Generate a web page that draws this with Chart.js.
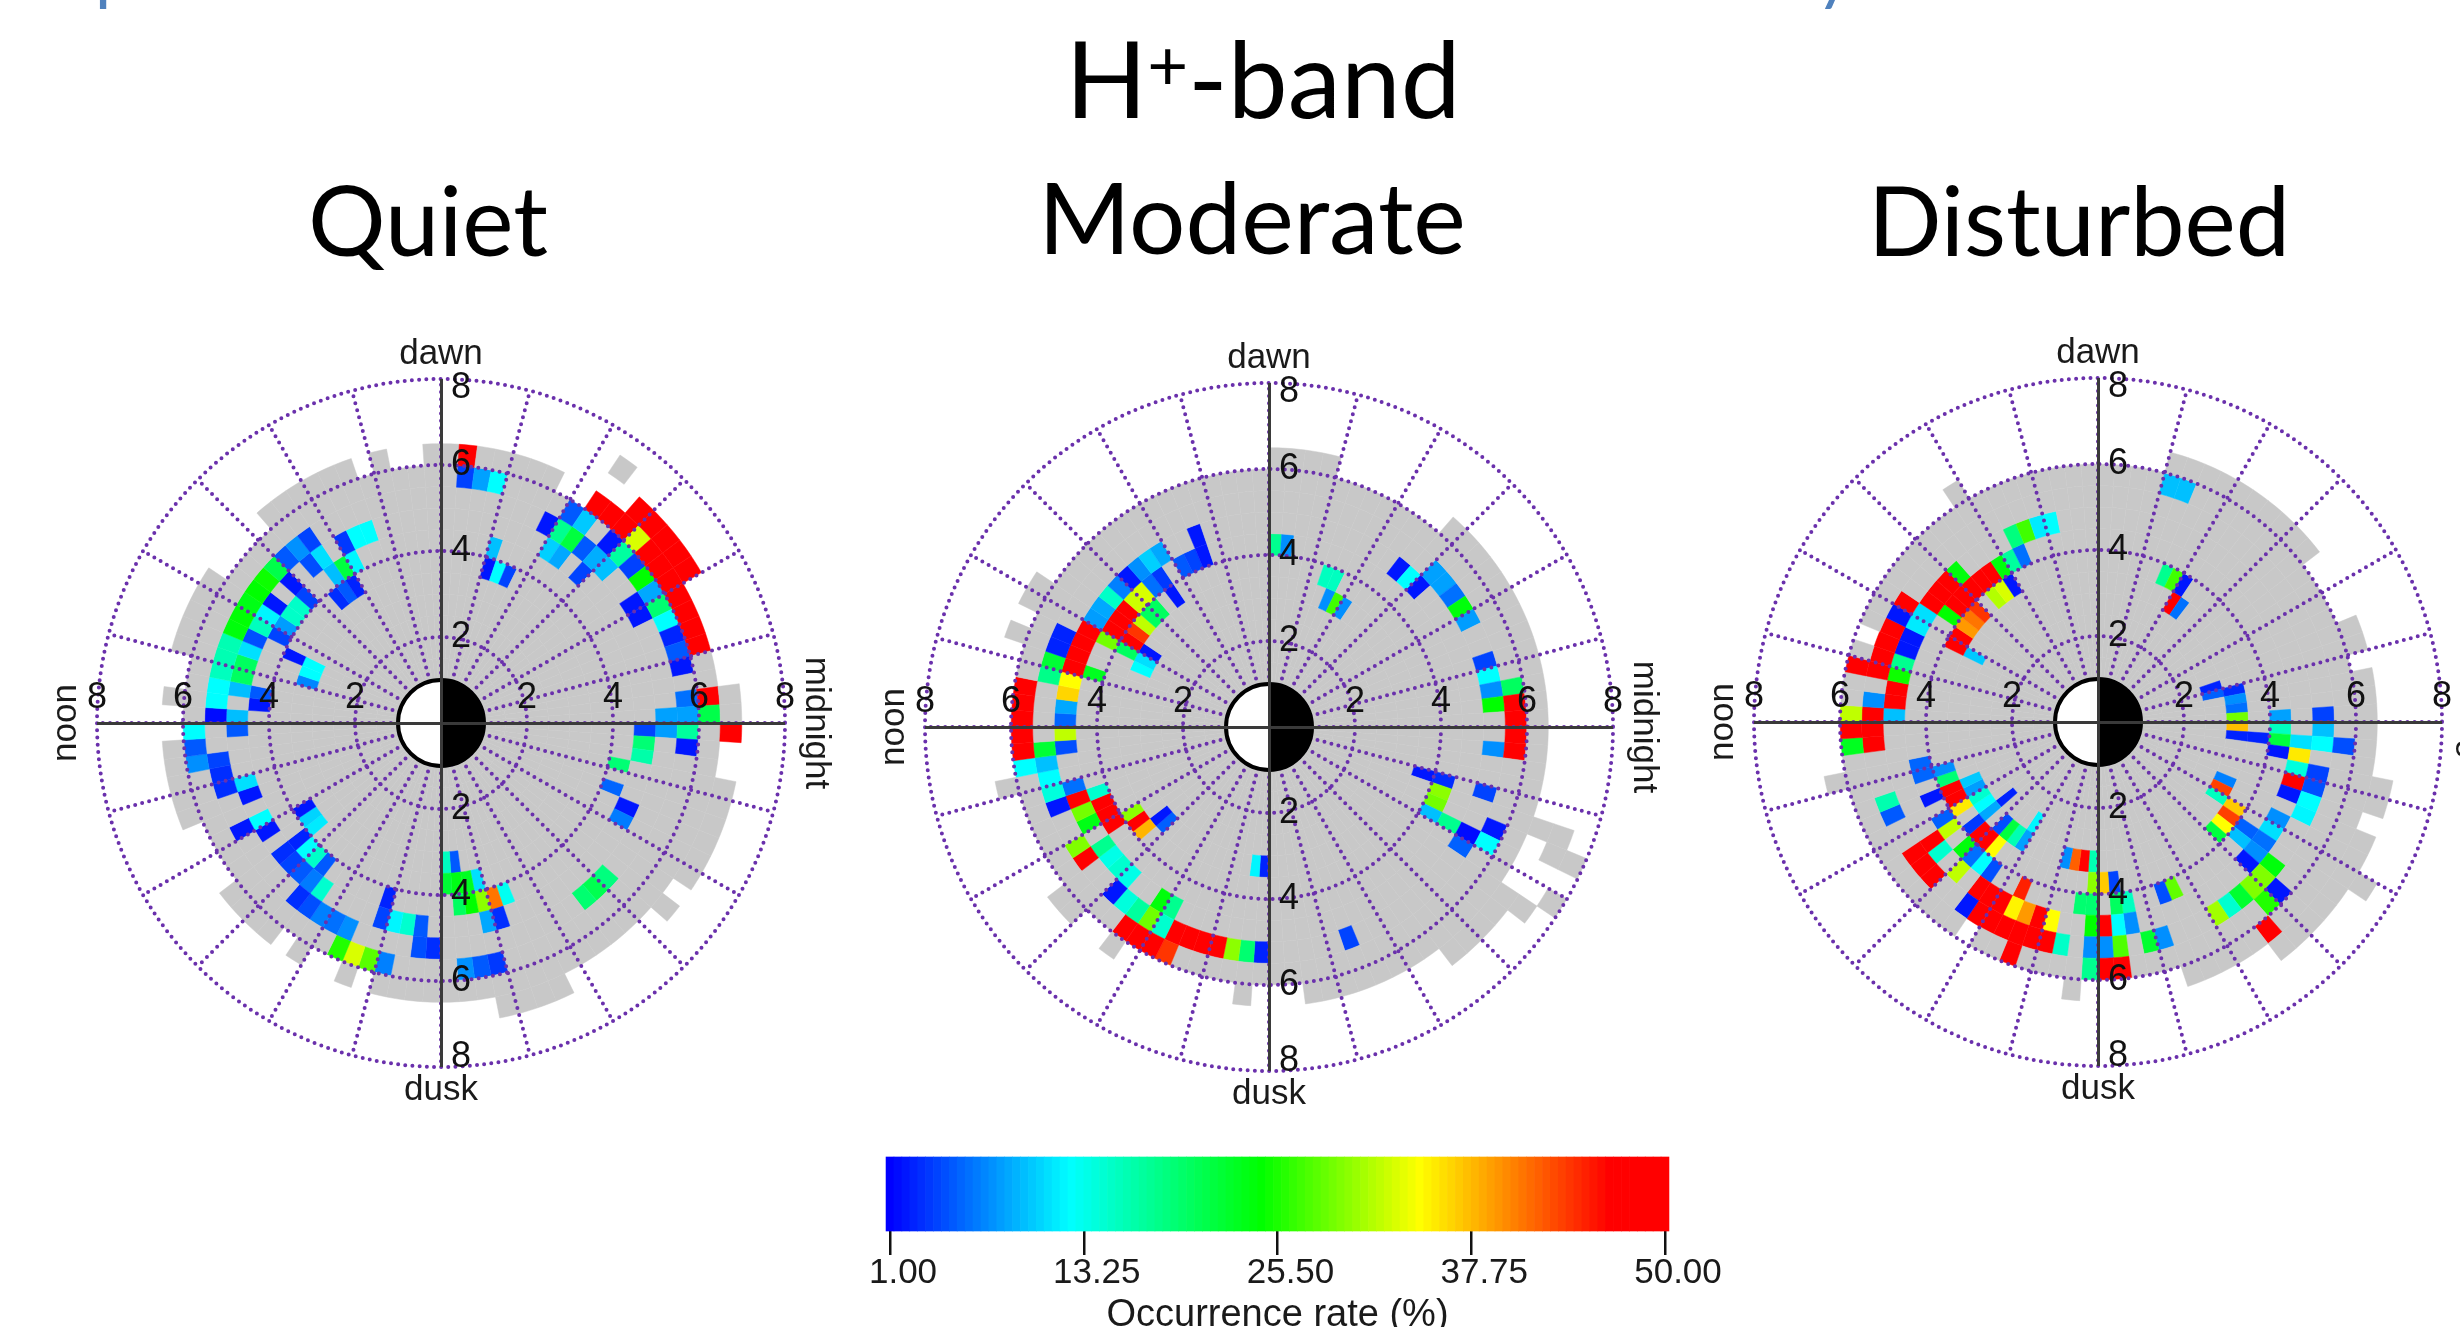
<!DOCTYPE html>
<html>
<head>
<meta charset="utf-8">
<title>H+-band occurrence rate</title>
<script src="https://cdn.jsdelivr.net/npm/chart.js@4"></script>
<style>
  html, body { margin: 0; padding: 0; background: #fff; }
  body { position: relative; width: 2460px; height: 1327px; overflow: hidden; }
  canvas { position: absolute; }
  .head { position: absolute; font-family: Lato, sans-serif; color: #000; line-height: 1; white-space: nowrap; transform: translateX(-50%); }
  .head sup { font-size: 0.66em; line-height: 0; vertical-align: 0.4em; }
  .cut { position: absolute; font-family: Lato, sans-serif; font-size: 70px; line-height: 1; color: #4f81bd; }
</style>
</head>
<body>
<div class="cut" style="left:95px;top:-65px">p</div>
<div class="cut" style="left:1816px;top:-65px">y</div>
<div class="head" style="left:1263px;top:23px;font-size:107px">H<sup>+</sup>-band</div>
<div class="head" style="left:428px;top:170px;font-size:97px">Quiet</div>
<div class="head" style="left:1252px;top:166px;font-size:99.5px">Moderate</div>
<div class="head" style="left:2079px;top:170px;font-size:97px">Disturbed</div>
<canvas id="quiet" width="820" height="820" style="left:31px;top:313px"></canvas>
<canvas id="moderate" width="820" height="820" style="left:859px;top:317px"></canvas>
<canvas id="disturbed" width="820" height="820" style="left:1688px;top:312px"></canvas>
<canvas id="colorbar" width="1000" height="230" style="left:780px;top:1130px"></canvas>
<script>
// colour scale of the occurrence rate (%)
const rateStops = [1, 12.4, 24.5, 34.5, 46.5, 50];
const stopColors = [[0, 0, 255], [0, 255, 255], [0, 255, 0], [255, 255, 0], [255, 0, 0], [255, 0, 0]];
const colorTicks = [1, 13.25, 25.5, 37.75, 50];
const rateLevels = [1, 1.5, 2, 2.5, 3, 3.5, 4, 4.5, 5, 5.5, 6, 6.5, 7, 7.5, 8, 8.5, 9, 9.5, 10, 10.5,
  11, 11.5, 12, 12.5, 13, 13.5, 14, 14.5, 15, 15.5, 16, 16.5, 17, 17.5, 18, 18.5, 19, 19.5, 20, 20.5,
  21, 21.5, 22, 22.5, 23, 23.5, 24, 24.5, 25, 25.5, 26, 26.5, 27, 27.5, 28, 28.5, 29, 29.5, 30, 30.5,
  31, 31.5, 32, 32.5, 33, 33.5, 34, 34.5, 35, 35.5, 36, 36.5, 37, 37.5, 38, 38.5, 39, 39.5, 40, 40.5,
  41, 41.5, 42, 42.5, 43, 43.5, 44, 44.5, 45, 45.5, 46, 46.5, 47, 47.5, 48, 48.5, 49, 49.5, 50];

// dial grid: L rings start every 0.5 from 1 to 7.5, MLT sectors are quarter hours
const ringStarts = [7.5, 7, 6.5, 6, 5.5, 5, 4.5, 4, 3.5, 3, 2.5, 2, 1.5, 1];
const sectorCount = 96;
const xTickValues = [-8, -6, -4, -2, 0, 2, 4, 6, 8];
const yTickValues = [-7.78, -6, -4, -2, 0, 2, 4, 6, 7.78];
const dottedRings = [2, 4, 6, 8];
const spokeAngles = [0, 15, 30, 45, 60, 75, 90, 105, 120, 135, 150, 165, 180, 195, 210, 225, 240, 255, 270, 285, 300, 315, 330, 345];

// measured coverage, [first sector of the run, outer L]
const quietCover = [[0, 7], [2, 6.5], [8, 7], [13, 6.5], [15, 6], [17, 6.5], [25, 6], [27, 6.5], [28, 6], [29, 6.5], [35, 6], [39, 6.5], [44, 6], [46, 6.5], [47, 6], [49, 6.5], [54, 6], [58, 6.5], [62, 6], [63, 6.5], [64, 6], [66, 6.5], [67, 6], [68, 6.5], [75, 7], [79, 6.5], [85, 7], [86, 6.5], [87, 7], [93, 6.5], [95, 7]];
const moderateCover = [[0, 6.5], [13, 6], [20, 6.5], [24, 6], [39, 6.5], [41, 6], [42, 6.5], [43, 6], [51, 6.5], [52, 6], [58, 6.5], [60, 6], [62, 6.5], [63, 6], [70, 6.5], [71, 6], [74, 6.5], [82, 7], [86, 7.5], [87, 6.5], [90, 7.5], [91, 6.5]];
const disturbedCover = [[0, 6.5], [3, 6], [4, 6.5], [6, 6], [10, 6.5], [20, 6], [32, 6.5], [33, 6], [42, 5.5], [43, 6], [51, 6.5], [52, 6], [63, 5.5], [64, 6], [70, 6.5], [71, 6], [77, 6.5], [82, 7], [87, 7.5], [88, 7], [90, 6.5], [91, 7], [93, 6.5]];

// covered cells that stand apart from the main area, [L, sector]
const quietIslands = [[7, 14]];
const moderateIslands = [[7, 89], [7.5, 89], [7.5, 87]];
const disturbedIslands = [];

// occurrence rate cells, [L, sector, rate]
const quietCells = [
  [6.5, 95, 48], [6.5, 8, 48], [6.5, 9, 48], [6.5, 10, 48], [6.5, 11, 48], [6.5, 12, 48],
  [6, 0, 21], [6, 1, 48], [6, 4, 48], [6, 5, 48], [6, 6, 48], [6, 7, 48], [6, 8, 48], [6, 9, 48], [6, 10, 48], [6, 11, 33], [6, 12, 48], [6, 13, 48], [6, 14, 48], [6, 22, 48],
  [5.5, 0, 8.2], [5.5, 1, 6], [5.5, 3, 2], [5.5, 4, 5], [5.5, 5, 2.6], [5.5, 6, 12.4], [5.5, 7, 19.2], [5.5, 8, 8.5], [5.5, 9, 24.5], [5.5, 10, 3.9], [5.5, 11, 16.9], [5.5, 12, 2], [5.5, 14, 10], [5.5, 15, 5],
  [5.5, 20, 12.4], [5.5, 21, 8.2], [5.5, 22, 3.9], [5.5, 48, 12.4], [5.5, 49, 5], [5.5, 50, 7.4], [5.5, 65, 25.8], [5.5, 66, 33], [5.5, 67, 28], [5.5, 68, 6.7], [5.5, 73, 7.5], [5.5, 74, 5], [5.5, 75, 3.5], [5.5, 94, 2], [5.5, 95, 17],
  [5, 0, 8.2], [5, 7, 2], [5, 8, 2], [5, 11, 9.6], [5, 12, 8.8], [5, 13, 5], [5, 14, 21.5], [5, 15, 17.7], [5, 16, 2], [5, 33, 4], [5, 34, 7.5], [5, 35, 5], [5, 36, 21], [5, 37, 25], [5, 38, 24.5], [5, 39, 23.5], [5, 40, 24.3], [5, 41, 24], [5, 42, 16], [5, 43, 16], [5, 44, 15.5], [5, 45, 12.4], [5, 46, 12.4], [5, 47, 1.5],
  [5, 50, 4], [5, 51, 3], [5, 52, 3], [5, 55, 2], [5, 61, 3], [5, 62, 4.5], [5, 63, 6.7], [5, 64, 6], [5, 65, 7.4], [5, 70, 4.5], [5, 71, 3], [5, 82, 19.2], [5, 83, 20.7], [5, 84, 18.5], [5, 95, 8],
  [4.5, 12, 4], [4.5, 14, 8.5], [4.5, 15, 10.3], [4.5, 29, 12.4], [4.5, 30, 12.4], [4.5, 31, 3.5], [4.5, 33, 11], [4.5, 34, 4.5], [4.5, 36, 2], [4.5, 38, 2], [4.5, 39, 12], [4.5, 40, 15.5], [4.5, 41, 4.5], [4.5, 42, 11], [4.5, 43, 20], [4.5, 44, 20], [4.5, 45, 9.5], [4.5, 47, 9.5], [4.5, 48, 5],
  [4.5, 52, 11], [4.5, 53, 2], [4.5, 55, 12.4], [4.5, 56, 2], [4.5, 58, 3], [4.5, 59, 4], [4.5, 60, 5], [4.5, 61, 6.5], [4.5, 62, 14.7], [4.5, 67, 4], [4.5, 68, 12], [4.5, 69, 14.7], [4.5, 70, 5], [4.5, 75, 8.5], [4.5, 76, 3], [4.5, 88, 6.5], [4.5, 89, 2], [4.5, 93, 16.5], [4.5, 94, 19], [4.5, 95, 4],
  [4, 19, 9.6], [4, 31, 12], [4, 32, 21.5], [4, 33, 9.5], [4, 36, 4], [4, 37, 15], [4, 38, 15], [4, 39, 8], [4, 40, 4], [4, 45, 5], [4, 46, 2], [4, 58, 2.5], [4, 59, 12.4], [4, 60, 15], [4, 61, 5], [4, 67, 2.5], [4, 73, 20], [4, 74, 24.5], [4, 75, 30], [4, 76, 41], [4, 77, 13], [4, 90, 5.5], [4, 92, 19],
  [3.5, 17, 4], [3.5, 18, 12.4], [3.5, 19, 2], [3.5, 32, 2.5], [3.5, 33, 5], [3.5, 34, 3], [3.5, 41, 2], [3.5, 56, 2], [3.5, 57, 10.5], [3.5, 58, 11.5], [3.5, 72, 22], [3.5, 73, 23.5], [3.5, 74, 23], [3.5, 75, 11],
  [3, 41, 12.4], [3, 42, 12.4], [3, 43, 7], [3, 72, 15.4], [3, 73, 5]
];
const moderateCells = [
  [5.5, 0, 48], [5.5, 1, 48], [5.5, 2, 20], [5.5, 45, 48], [5.5, 46, 48], [5.5, 47, 48], [5.5, 48, 48], [5.5, 49, 48], [5.5, 50, 12.4], [5.5, 62, 48], [5.5, 63, 48], [5.5, 64, 48], [5.5, 65, 44], [5.5, 88, 12.4], [5.5, 89, 2], [5.5, 94, 48], [5.5, 95, 48],
  [5, 1, 24.5], [5, 2, 7.4], [5, 3, 12.4], [5, 4, 4], [5, 7, 8], [5, 8, 24], [5, 9, 6], [5, 10, 8.2], [5, 11, 8.2], [5, 41, 2.5], [5, 42, 2.5], [5, 43, 22], [5, 44, 18], [5, 49, 22], [5, 50, 9.6], [5, 51, 12.4], [5, 52, 14], [5, 53, 2], [5, 56, 29.5], [5, 57, 48], [5, 60, 2], [5, 61, 14], [5, 62, 17], [5, 63, 28.9], [5, 64, 14.7], [5, 65, 48], [5, 66, 48], [5, 67, 48], [5, 68, 48], [5, 69, 30], [5, 70, 19.2], [5, 71, 2.5], [5, 77, 4], [5, 87, 5.3], [5, 88, 1.5], [5, 91, 4], [5, 94, 7.4],
  [4.5, 11, 2], [4.5, 12, 12.4], [4.5, 13, 2], [4.5, 29, 2], [4.5, 32, 8.5], [4.5, 33, 10.3], [4.5, 34, 7.4], [4.5, 35, 2], [4.5, 36, 6.7], [4.5, 37, 15], [4.5, 38, 8.5], [4.5, 39, 8], [4.5, 40, 48], [4.5, 41, 48], [4.5, 42, 48], [4.5, 43, 48], [4.5, 44, 34.5], [4.5, 45, 36.5], [4.5, 46, 8.5], [4.5, 47, 5.5], [4.5, 48, 32], [4.5, 49, 4.5], [4.5, 52, 6], [4.5, 53, 48], [4.5, 54, 29], [4.5, 55, 23.5], [4.5, 57, 17.7], [4.5, 58, 13.5], [4.5, 59, 14.7], [4.5, 60, 13.5], [4.5, 63, 24], [4.5, 64, 17.7], [4.5, 88, 17.7],
  [4, 22, 7.4], [4, 23, 17.7], [4, 29, 2], [4, 30, 4], [4, 31, 5], [4, 33, 3.5], [4, 34, 6], [4, 35, 33], [4, 36, 32.5], [4, 37, 48], [4, 38, 48], [4, 39, 48], [4, 40, 29], [4, 43, 23], [4, 53, 14.7], [4, 54, 48], [4, 55, 48], [4, 56, 48], [4, 88, 9.6], [4, 89, 29], [4, 90, 30], [4, 91, 3],
  [3.5, 17, 15.4], [3.5, 18, 15.4], [3.5, 33, 2], [3.5, 35, 20], [3.5, 36, 20], [3.5, 37, 32], [3.5, 38, 44], [3.5, 39, 47], [3.5, 40, 20], [3.5, 56, 30], [3.5, 57, 48], [3.5, 58, 38], [3.5, 91, 2],
  [3, 15, 7.4], [3, 16, 27], [3, 17, 7.4], [3, 39, 2], [3, 40, 11], [3, 41, 12.4], [3, 58, 2], [3, 59, 5.3], [3, 70, 12], [3, 71, 2.5]
];
const disturbedCells = [
  [6, 82, 48],
  [5.5, 18, 9.6], [5.5, 19, 9.6], [5.5, 44, 48], [5.5, 47, 32], [5.5, 48, 48], [5.5, 49, 23], [5.5, 66, 48], [5.5, 71, 17.7], [5.5, 72, 48], [5.5, 73, 48], [5.5, 83, 25.8], [5.5, 84, 2], [5.5, 94, 4.5],
  [5, 0, 3.9], [5, 39, 48], [5, 40, 2], [5, 41, 48], [5, 42, 48], [5, 43, 48], [5, 44, 48], [5, 46, 7.4], [5, 47, 48], [5, 48, 48], [5, 49, 48], [5, 53, 16.2], [5, 54, 5], [5, 57, 48], [5, 58, 48], [5, 59, 48], [5, 62, 2], [5, 63, 48], [5, 64, 48], [5, 65, 48], [5, 66, 48], [5, 67, 48], [5, 68, 48], [5, 69, 15], [5, 71, 7.4], [5, 72, 7.4], [5, 73, 27.6], [5, 75, 22.2], [5, 76, 7.4], [5, 80, 30.8], [5, 81, 14.7], [5, 82, 22.2], [5, 83, 29.5], [5, 84, 29.5], [5, 85, 24], [5, 89, 12], [5, 90, 12.4], [5, 91, 4.5], [5, 92, 3.9], [5, 94, 12.4], [5, 95, 9.6],
  [4.5, 27, 12.4], [4.5, 28, 11.5], [4.5, 29, 27], [4.5, 30, 18.5], [4.5, 35, 24], [4.5, 36, 48], [4.5, 37, 48], [4.5, 38, 48], [4.5, 39, 11], [4.5, 40, 11.5], [4.5, 41, 2], [4.5, 42, 2], [4.5, 43, 17.7], [4.5, 44, 25], [4.5, 45, 48], [4.5, 46, 48], [4.5, 47, 9.6], [4.5, 57, 48], [4.5, 58, 14.7], [4.5, 60, 32], [4.5, 62, 48], [4.5, 63, 48], [4.5, 64, 48], [4.5, 65, 35], [4.5, 66, 39.3], [4.5, 67, 48], [4.5, 68, 34.5], [4.5, 71, 24.5], [4.5, 72, 48], [4.5, 73, 12.4], [4.5, 74, 7.4], [4.5, 84, 2], [4.5, 85, 7.4], [4.5, 86, 6], [4.5, 87, 11], [4.5, 88, 7.4], [4.5, 90, 2], [4.5, 91, 48], [4.5, 92, 14], [4.5, 93, 35.5], [4.5, 94, 11],
  [4, 0, 8.2], [4, 30, 6], [4, 31, 17], [4, 32, 24], [4, 33, 48], [4, 34, 48], [4, 35, 48], [4, 36, 48], [4, 37, 48], [4, 38, 24.5], [4, 51, 5.5], [4, 52, 5.5], [4, 54, 2], [4, 56, 5.3], [4, 57, 32], [4, 59, 24], [4, 60, 6], [4, 61, 12.4], [4, 62, 4.5], [4, 65, 45], [4, 70, 19.2], [4, 71, 19.2], [4, 73, 20], [4, 74, 15.4], [4, 77, 4.5], [4, 78, 28.3], [4, 85, 9.6], [4, 86, 5.3], [4, 93, 2], [4, 94, 21.5], [4, 95, 15.4],
  [3.5, 15, 2], [3.5, 16, 27], [3.5, 17, 17.7], [3.5, 32, 2], [3.5, 33, 33], [3.5, 34, 31.5], [3.5, 36, 44], [3.5, 37, 41], [3.5, 38, 39.3], [3.5, 39, 48], [3.5, 40, 48], [3.5, 52, 7.4], [3.5, 53, 19], [3.5, 54, 48], [3.5, 55, 48], [3.5, 56, 35.5], [3.5, 58, 3.5], [3.5, 59, 48], [3.5, 60, 48], [3.5, 61, 34.5], [3.5, 71, 30], [3.5, 72, 37], [3.5, 73, 4], [3.5, 84, 21.5], [3.5, 85, 34.5], [3.5, 86, 43.5], [3.5, 87, 37], [3.5, 94, 2.5],
  [3, 0, 29], [3, 1, 6], [3, 2, 7.4], [3, 3, 3], [3, 14, 6], [3, 15, 48], [3, 40, 10], [3, 54, 10], [3, 55, 8], [3, 56, 14.7], [3, 57, 12.4], [3, 58, 8.5], [3, 60, 4.5], [3, 61, 21.5], [3, 62, 16], [3, 63, 8.2], [3, 68, 7.4], [3, 69, 42], [3, 70, 48], [3, 71, 16], [3, 87, 15.4], [3, 88, 43.5], [3, 89, 6.7], [3, 94, 2.5], [3, 95, 37.5],
  [2.5, 3, 5.3], [2.5, 4, 2.5], [2.5, 58, 2.5], [2.5, 63, 12]
];

function rateColor(rate) {
  let i = 0;
  while (i < rateStops.length - 2 && rate > rateStops[i + 1]) i++;
  const t = Math.min(1, Math.max(0, (rate - rateStops[i]) / (rateStops[i + 1] - rateStops[i])));
  const c = stopColors[i].map((v, k) => Math.round(v + (stopColors[i + 1][k] - v) * t));
  return 'rgb(' + c.join(',') + ')';
}

function outerL(cover, sector) {
  let L = 0;
  cover.forEach(run => { if (sector >= run[0]) L = run[1]; });
  return L;
}

// one doughnut ring per L bin. The doughnut runs clockwise from midnight, MLT runs the other way
function ringDatasets(cover, islands, cells) {
  return ringStarts.map(L => {
    const colors = [];
    for (let i = 0; i < sectorCount; i++) {
      const sector = sectorCount - 1 - i;
      const isle = islands.some(c => c[0] === L && c[1] === sector);
      const cell = cells.find(c => c[0] === L && c[1] === sector);
      if (cell) colors.push(rateColor(cell[2]));
      else if (L < outerL(cover, sector) || isle) colors.push('#c8c8c8');
      else colors.push('rgba(255,255,255,0)');
    }
    return {
      type: 'doughnut',
      data: colors.map(() => 1),
      backgroundColor: colors,
      borderColor: colors,
      borderWidth: 0.5,
      cutout: '12.5%',
      rotation: 90
    };
  });
}

const dialParts = {
  id: 'dialParts',
  afterDatasetsDraw(chart) {
    const x = chart.scales.x, y = chart.scales.y, ctx = chart.ctx;
    const cx = x.getPixelForValue(0), cy = y.getPixelForValue(0);
    const unit = x.getPixelForValue(1) - cx;
    ctx.save();
    ctx.strokeStyle = '#6a30ac';
    ctx.lineWidth = 4;
    ctx.lineCap = 'round';
    ctx.setLineDash([0, 7.2]);
    dottedRings.forEach(L => {
      ctx.beginPath();
      ctx.arc(cx, cy, L * unit, 0, Math.PI * 2);
      ctx.stroke();
    });
    spokeAngles.forEach(a => {
      const t = a * Math.PI / 180;
      ctx.beginPath();
      ctx.moveTo(cx + unit * Math.cos(t), cy - unit * Math.sin(t));
      ctx.lineTo(cx + 8 * unit * Math.cos(t), cy - 8 * unit * Math.sin(t));
      ctx.stroke();
    });
    ctx.setLineDash([]);
    // day and night disk at L = 1
    ctx.fillStyle = '#fff';
    ctx.beginPath();
    ctx.arc(cx, cy, unit, 0, Math.PI * 2);
    ctx.fill();
    ctx.fillStyle = '#000';
    ctx.beginPath();
    ctx.arc(cx, cy, unit, -Math.PI / 2, Math.PI / 2);
    ctx.fill();
    ctx.strokeStyle = '#000';
    ctx.lineWidth = 4;
    ctx.beginPath();
    ctx.arc(cx, cy, unit, 0, Math.PI * 2);
    ctx.stroke();
    // local time words
    ctx.fillStyle = '#1a1a1a';
    ctx.font = '35px "Liberation Sans"';
    ctx.textAlign = 'center';
    ctx.textBaseline = 'middle';
    ctx.fillText('dawn', cx, cy - 369);
    ctx.fillText('dusk', cx, cy + 367);
    ctx.translate(cx - 375, cy);
    ctx.rotate(-Math.PI / 2);
    ctx.fillText('noon', 0, 0);
    ctx.rotate(Math.PI / 2);
    ctx.translate(750, 0);
    ctx.rotate(Math.PI / 2);
    ctx.fillText('midnight', 0, 0);
    ctx.restore();
  }
};

function dialTickLabel(value) {
  return value === 0 ? '' : String(Math.round(Math.abs(value)));
}

function axisLineColor(context) {
  return context.tick && context.tick.value === 0 ? '#3a3a3a' : 'rgba(0,0,0,0)';
}

function dropPadding(scale) {
  scale.paddingLeft = scale.paddingRight = scale.paddingTop = scale.paddingBottom = 0;
}

function drawDial(id, cover, islands, cells) {
  new Chart(document.getElementById(id), {
    type: 'scatter',
    data: { datasets: ringDatasets(cover, islands, cells) },
    plugins: [dialParts],
    options: {
      responsive: false,
      animation: false,
      events: [],
      layout: { padding: 66 },
      plugins: { legend: { display: false }, tooltip: { enabled: false } },
      scales: {
        x: {
          type: 'linear',
          min: -8,
          max: 8,
          position: { y: 0 },
          afterBuildTicks: scale => { scale.ticks = xTickValues.map(v => ({ value: v })); },
          afterFit: dropPadding,
          border: { display: false },
          grid: { z: 1, color: axisLineColor, lineWidth: 3, drawTicks: false },
          ticks: { z: 2, callback: dialTickLabel, autoSkip: false, maxRotation: 0, padding: -46.6, color: '#111', font: { family: 'Liberation Sans', size: 36 } }
        },
        y: {
          type: 'linear',
          min: -8,
          max: 8,
          position: { x: 0.7 },
          afterBuildTicks: scale => { scale.ticks = yTickValues.map(v => ({ value: v })); },
          afterFit: dropPadding,
          border: { display: false },
          grid: { z: 1, color: axisLineColor, lineWidth: 3, drawTicks: false },
          ticks: { z: 2, callback: dialTickLabel, autoSkip: false, padding: 0, color: '#111', font: { family: 'Liberation Sans', size: 36 } }
        }
      }
    }
  });
}

drawDial('quiet', quietCover, quietIslands, quietCells);
drawDial('moderate', moderateCover, moderateIslands, moderateCells);
drawDial('disturbed', disturbedCover, disturbedIslands, disturbedCells);

new Chart(document.getElementById('colorbar'), {
  type: 'bar',
  data: {
    datasets: [{
      data: rateLevels.map(v => ({ x: v, y: 1 })),
      backgroundColor: rateLevels.map(rateColor),
      barPercentage: 1,
      categoryPercentage: 1,
      clip: false
    }]
  },
  options: {
    responsive: false,
    animation: false,
    events: [],
    layout: { padding: { left: 110, right: 115, top: 27, bottom: 0 } },
    plugins: { legend: { display: false }, tooltip: { enabled: false } },
    scales: {
      x: {
        type: 'linear',
        min: 1,
        max: 50,
        offset: false,
        afterBuildTicks: scale => { scale.ticks = colorTicks.map(v => ({ value: v })); },
        afterFit: scale => { scale.height = 129; },
        border: { display: false },
        grid: { offset: false, drawOnChartArea: false, tickLength: 24, color: '#111', lineWidth: 2.5 },
        ticks: {
          callback: v => v.toFixed(2),
          autoSkip: false,
          maxRotation: 0,
          labelOffset: 13,
          padding: -3,
          color: '#1a1a1a',
          font: { family: 'Liberation Sans', size: 35 }
        },
        title: {
          display: true,
          text: 'Occurrence rate (%)',
          color: '#1a1a1a',
          font: { family: 'Liberation Sans', size: 38 },
          padding: { top: 0, bottom: 22 }
        }
      },
      y: { display: false, min: 0, max: 1 }
    }
  }
});
</script>
</body>
</html>
